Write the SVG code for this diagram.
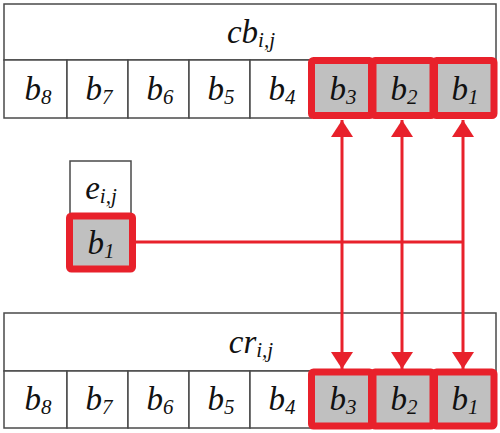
<svg xmlns="http://www.w3.org/2000/svg" width="500" height="433" viewBox="0 0 500 433">
<defs>
<style>
.box{fill:#fff;stroke:#4a4a4a;stroke-width:1.5}
.sel{fill:#c0c0c0;stroke:#e8212b;stroke-width:7}
.t{font-family:"Liberation Serif",serif;font-style:italic;font-size:33px;fill:#111;text-anchor:middle}
.s{font-size:21px}
.con{stroke:#e8212b;stroke-width:3;fill:none}
</style>
<marker id="ah" markerUnits="userSpaceOnUse" markerWidth="17" markerHeight="22" viewBox="0 0 17 22" refX="17" refY="11" orient="auto-start-reverse">
<path d="M0,0 L17,11 L0,22 Z" fill="#e8212b"/>
</marker>
</defs>
<rect width="500" height="433" fill="#fff"/>

<g id="cb">
<rect class="box" x="4" y="4" width="492" height="56"/>
<text class="t" x="251" y="43">cb<tspan class="s" dy="4">i,j</tspan></text>
<rect class="box" x="4" y="60" width="63" height="58"/>
<rect class="box" x="67" y="60" width="61" height="58"/>
<rect class="box" x="128" y="60" width="61" height="58"/>
<rect class="box" x="189" y="60" width="61" height="58"/>
<rect class="box" x="250" y="60" width="61" height="58"/>
<rect class="sel" x="311.5" y="60.5" width="60" height="55" rx="2"/>
<rect class="sel" x="373" y="60.5" width="60" height="55" rx="2"/>
<rect class="sel" x="434.5" y="60.5" width="59.5" height="55" rx="2"/>
<text class="t" x="38" y="100">b<tspan class="s" dy="4">8</tspan></text>
<text class="t" x="99" y="100">b<tspan class="s" dy="4">7</tspan></text>
<text class="t" x="160" y="100">b<tspan class="s" dy="4">6</tspan></text>
<text class="t" x="221" y="100">b<tspan class="s" dy="4">5</tspan></text>
<text class="t" x="282" y="100">b<tspan class="s" dy="4">4</tspan></text>
<text class="t" x="343" y="100">b<tspan class="s" dy="4">3</tspan></text>
<text class="t" x="404" y="100">b<tspan class="s" dy="4">2</tspan></text>
<text class="t" x="465" y="100">b<tspan class="s" dy="4">1</tspan></text>
</g>

<g id="e">
<rect class="box" x="70" y="161" width="61" height="54"/>
<text class="t" x="101" y="199">e<tspan class="s" dy="4">i,j</tspan></text>
<rect class="sel" x="69.5" y="216" width="63" height="53" rx="2"/>
<text class="t" x="101" y="254">b<tspan class="s" dy="4">1</tspan></text>
</g>

<g id="cr">
<rect class="box" x="4" y="313" width="492" height="58"/>
<text class="t" x="251" y="353">cr<tspan class="s" dy="4">i,j</tspan></text>
<rect class="box" x="4" y="371" width="63" height="57"/>
<rect class="box" x="67" y="371" width="61" height="57"/>
<rect class="box" x="128" y="371" width="61" height="57"/>
<rect class="box" x="189" y="371" width="61" height="57"/>
<rect class="box" x="250" y="371" width="61" height="57"/>
<rect class="sel" x="311.5" y="372" width="60" height="54" rx="2"/>
<rect class="sel" x="373" y="372" width="60" height="54" rx="2"/>
<rect class="sel" x="434.5" y="372" width="59.5" height="54" rx="2"/>
<text class="t" x="38" y="410">b<tspan class="s" dy="4">8</tspan></text>
<text class="t" x="99" y="410">b<tspan class="s" dy="4">7</tspan></text>
<text class="t" x="160" y="410">b<tspan class="s" dy="4">6</tspan></text>
<text class="t" x="221" y="410">b<tspan class="s" dy="4">5</tspan></text>
<text class="t" x="282" y="410">b<tspan class="s" dy="4">4</tspan></text>
<text class="t" x="343" y="410">b<tspan class="s" dy="4">3</tspan></text>
<text class="t" x="404" y="410">b<tspan class="s" dy="4">2</tspan></text>
<text class="t" x="465" y="410">b<tspan class="s" dy="4">1</tspan></text>
</g>

<g id="connectors">
<line class="con" x1="136" y1="242" x2="463" y2="242"/>
<line class="con" x1="342" y1="120" x2="342" y2="369" marker-start="url(#ah)" marker-end="url(#ah)"/>
<line class="con" x1="402" y1="120" x2="402" y2="369" marker-start="url(#ah)" marker-end="url(#ah)"/>
<line class="con" x1="463" y1="120" x2="463" y2="369" marker-start="url(#ah)" marker-end="url(#ah)"/>
</g>
</svg>
